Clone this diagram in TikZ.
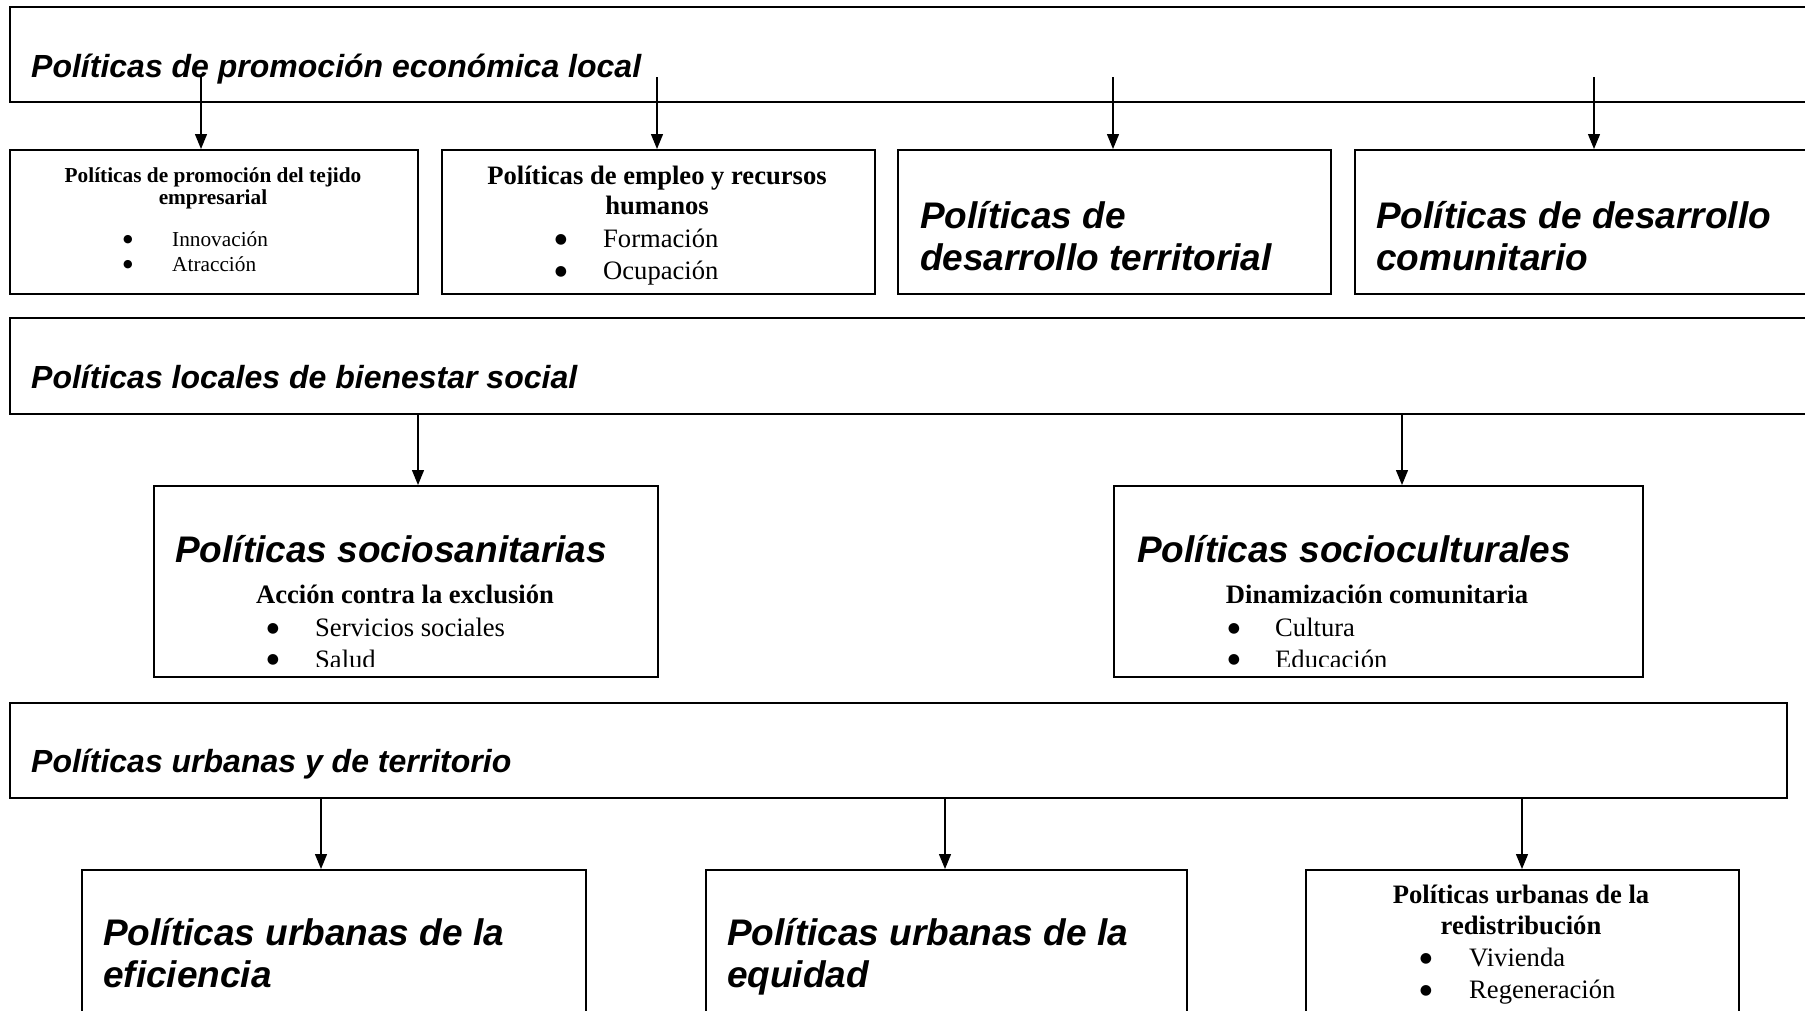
\documentclass[tikz,border=0pt]{standalone}
\usepackage{fontspec}
\setmainfont{Liberation Serif}
\setsansfont{Liberation Sans}
\newfontfamily\dvfont{DejaVu Sans}
\usetikzlibrary{arrows.meta}
\begin{document}
\begin{tikzpicture}[x=1pt,y=-1pt,
  box/.style={draw=black,line width=1.8pt,inner sep=0pt,anchor=north west},
  arr/.style={line width=1.3pt,-{Triangle[width=12pt,length=15pt]}},
  hd/.style={inner sep=0pt,anchor=base west,font=\sffamily\bfseries\itshape\fontsize{32}{36}\selectfont},
  big/.style={inner sep=0pt,anchor=base west,font=\sffamily\bfseries\itshape\fontsize{37}{42}\selectfont},
  tb/.style={inner sep=0pt,anchor=base,font=\bfseries\fontsize{26.6}{30}\selectfont},
  tr/.style={inner sep=0pt,anchor=base west,font=\fontsize{26.6}{30}\selectfont},
  bl/.style={inner sep=0pt,anchor=center,font=\dvfont\fontsize{14}{14}\selectfont},
  tbs/.style={inner sep=0pt,anchor=base,font=\bfseries\fontsize{21.3}{24}\selectfont},
  trs/.style={inner sep=0pt,anchor=base west,font=\fontsize{21.3}{24}\selectfont},
  bls/.style={inner sep=0pt,anchor=center,font=\dvfont\fontsize{11}{11}\selectfont}
]
\useasboundingbox (0,0) rectangle (1805,1010);
\clip (0,0) rectangle (1805,1010);
\fill[white] (0,0) rectangle (1805,1010);

% boxes
\node[box,minimum width=1830pt,minimum height=95pt] (top) at (9,6) {};
\node[box,minimum width=408pt,minimum height=144pt] (A) at (9,149) {};
\node[box,minimum width=433pt,minimum height=144pt] (B) at (441,149) {};
\node[box,minimum width=433pt,minimum height=144pt] (C) at (897,149) {};
\node[box,minimum width=480pt,minimum height=144pt] (D) at (1354,149) {};
\node[box,minimum width=1830pt,minimum height=96pt] (bien) at (9,317) {};
\node[box,minimum width=504pt,minimum height=191pt] (socsan) at (153,485) {};
\node[box,minimum width=529pt,minimum height=191pt] (soccul) at (1113,485) {};
\node[box,minimum width=1777pt,minimum height=95pt] (urb) at (9,702) {};
\node[box,minimum width=504pt,minimum height=200pt] (efi) at (81,869) {};
\node[box,minimum width=481pt,minimum height=200pt] (equ) at (705,869) {};
\node[box,minimum width=433pt,minimum height=200pt] (red) at (1305,869) {};

% top section
\node[hd] (ttop) at (31,77) {Políticas de promoción económica local};

\node[tbs] (a1) at (213,182) {Políticas de promoción del tejido};
\node[tbs] (a2) at (213,204) {empresarial};
\node[bls] (ab1) at (128,240) {●};
\node[trs] (ai1) at (172,246) {Innovación};
\node[bls] (ab2) at (128,265) {●};
\node[trs] (ai2) at (172,271) {Atracción};

\node[tb] (b1) at (657,184) {Políticas de empleo y recursos};
\node[tb] (b2) at (657,214) {humanos};
\node[bl] (bb1) at (561,240) {●};
\node[tr] (bi1) at (603,247) {Formación};
\node[bl] (bb2) at (561,272) {●};
\node[tr] (bi2) at (603,279) {Ocupación};

\node[big] (c1) at (920,228) {Políticas de};
\node[big] (c2) at (920,270) {desarrollo territorial};

\node[big] (d1) at (1376,228) {Políticas de desarrollo};
\node[big] (d2) at (1376,270) {comunitario};

% bienestar section
\node[hd] (tbien) at (31,388) {Políticas locales de bienestar social};

\node[big] (s1) at (175,562) {Políticas sociosanitarias};
\node[tb] (s2) at (405,603) {Acción contra la exclusión};
\node[bl] (sb1) at (273,629) {●};
\node[tr] (si1) at (315,636) {Servicios sociales};

\node[big] (u1) at (1137,562) {Políticas socioculturales};
\node[tb] (u2) at (1377,603) {Dinamización comunitaria};
\node[bl] (ub1) at (1234,629) {●};
\node[tr] (ui1) at (1275,636) {Cultura};

\node[bl] (sb2) at (273,660) {●};
\node[bl] (ub2) at (1234,660) {●};
\begin{scope}
\clip (0,640) rectangle (1805,666);
\node[tr] (si2) at (315,668.5) {Salud};
\node[tr] (ui2) at (1275,668.5) {Educación};
\end{scope}

% urbanas section
\node[hd] (turb) at (31,772) {Políticas urbanas y de territorio};

\node[big] (e1) at (103,945) {Políticas urbanas de la};
\node[big] (e2) at (103,987) {eficiencia};

\node[big] (q1) at (727,945) {Políticas urbanas de la};
\node[big] (q2) at (727,987) {equidad};

\node[tb] (r1) at (1521,903) {Políticas urbanas de la};
\node[tb] (r2) at (1521,934) {redistribución};
\node[bl] (rb1) at (1426,959) {●};
\node[tr] (ri1) at (1469,966) {Vivienda};
\node[bl] (rb2) at (1426,991) {●};
\node[tr] (ri2) at (1469,998) {Regeneración};

% connectors
\coordinate (p1) at (201,77);
\coordinate (p2) at (657,77);
\coordinate (p3) at (1113,77);
\coordinate (p4) at (1594,77);
\draw[arr] (p1) -- (p1 |- A.north);
\draw[arr] (p2) -- (p2 |- B.north);
\draw[arr] (p3) -- (p3 |- C.north);
\draw[arr] (p4) -- (p4 |- D.north);

\coordinate (m1) at (418,0);
\coordinate (m2) at (1402,0);
\draw[arr] (m1 |- bien.south) -- (m1 |- socsan.north);
\draw[arr] (m2 |- bien.south) -- (m2 |- soccul.north);

\coordinate (n1) at (321,0);
\coordinate (n2) at (945,0);
\coordinate (n3) at (1522,0);
\draw[arr] (n1 |- urb.south) -- (n1 |- efi.north);
\draw[arr] (n2 |- urb.south) -- (n2 |- equ.north);
\draw[arr] (n3 |- urb.south) -- (n3 |- red.north);
\end{tikzpicture}
\end{document}
